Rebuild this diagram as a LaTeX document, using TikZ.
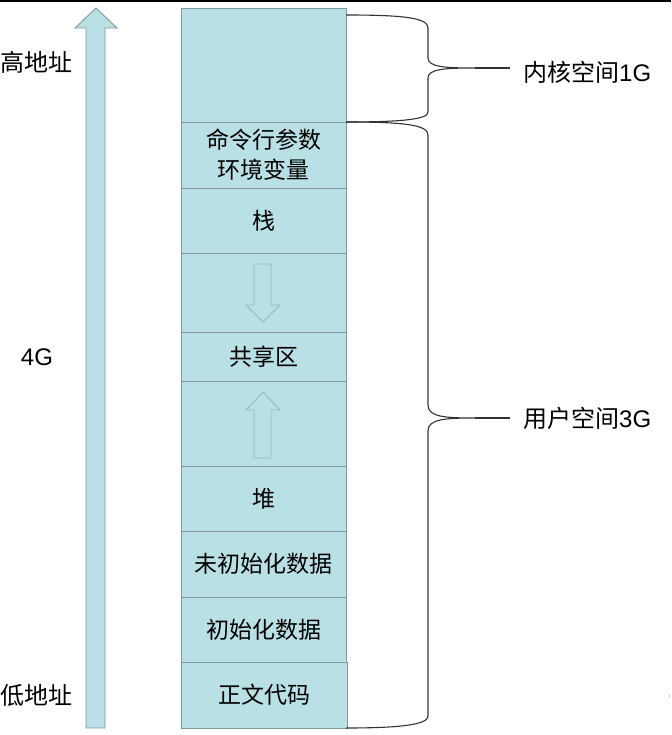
\documentclass[tikz,border=0pt]{standalone}
\usepackage{fontspec}
\setmainfont{Liberation Sans}
\newfontfamily\cjk{Noto Sans CJK SC}
\definecolor{boxfill}{RGB}{185,224,228}
\definecolor{boxline}{RGB}{125,155,160}
\definecolor{arrline}{RGB}{150,185,190}
\begin{document}
\begin{tikzpicture}[x=1pt,y=-1pt,
  membox/.style={draw=boxline,fill=boxfill,line width=0.9pt,minimum width=165pt,inner sep=0pt,
     font=\cjk\fontsize{23}{30}\selectfont,align=center},
  bracestyle/.style={draw=black!80,line width=1.1pt},
  lbl/.style={font=\fontsize{24}{28}\selectfont,inner sep=0pt}]
\useasboundingbox (0,0) rectangle (671,735);
\fill[white] (0,0) rectangle (671,735);
\draw[line width=1.6pt] (0,0.8) -- (671,0.8);
% big address arrow
\filldraw[fill=boxfill,draw=boxline,line width=0.9pt]
  (86,728) -- (86,28) -- (75,28) -- (96,8) -- (117,28) -- (105,28) -- (105,728) -- cycle;
% memory boxes
\node[membox,minimum height=114pt] (kern) at (263.5,65) {};
\node[membox,minimum height=66pt] (cmd) at (263.5,155) {命令行参数\\环境变量};
\node[membox,minimum height=65pt] (stack) at (263.5,220.5) {栈};
\node[membox,minimum height=79pt] (gap1) at (263.5,292.5) {};
\node[membox,minimum height=49pt] (share) at (263.5,356.5) {共享区};
\node[membox,minimum height=85pt] (gap2) at (263.5,423.5) {};
\node[membox,minimum height=65pt] (heap) at (263.5,498.5) {堆};
\node[membox,minimum height=66pt] (bss) at (263.5,564) {未初始化数据};
\node[membox,minimum height=65pt] (data) at (263.5,629.5) {初始化数据};
\node[membox,minimum height=66pt,minimum width=166pt] (text) at (264,695) {正文代码};
% growth arrows
\draw[draw=arrline,fill=boxfill,line width=0.9pt]
  (254,264) -- (271,264) -- (271,305) -- (280,305) -- (263,322) -- (246,305) -- (254,305) -- cycle;
\draw[draw=arrline,fill=boxfill,line width=0.9pt]
  (254,458) -- (271,458) -- (271,410) -- (280,410) -- (263,392) -- (246,410) -- (254,410) -- cycle;
% braces
\coordinate (k1) at (346,15);
\coordinate (k2) at (346,122);
\coordinate (u2) at (346,728);
\draw[bracestyle] (k1) .. controls (405,15) and (428,18) .. (428,28) -- (428,58)
  .. controls (428,67) and (445,68) .. (475,68)
  .. controls (445,68) and (428,69) .. (428,78) -- (428,112)
  .. controls (428,119) and (405,122) .. (k2);
\draw[bracestyle] (475,68) -- (510,68);
\draw[bracestyle] (k2) .. controls (405,122) and (428,125) .. (428,135) -- (428,405)
  .. controls (428,417) and (445,418) .. (475,418)
  .. controls (445,418) and (428,419) .. (428,431) -- (428,716)
  .. controls (428,724) and (405,728) .. (u2);
\draw[bracestyle] (475,418) -- (510,418);
% labels
\node[lbl,anchor=west] (kl) at (523,72) {{\cjk 内核空间}1G};
\node[lbl,anchor=west] (ul) at (523,418) {{\cjk 用户空间}3G};
\node[lbl,anchor=west] (hi) at (0,62) {\cjk 高地址};
\node[lbl] (four) at (37,357) {4G};
\node[lbl,anchor=west] (lo) at (0,695) {\cjk 低地址};
\fill[black!60] (669.5,696) circle (0.6pt);
\end{tikzpicture}
\end{document}
